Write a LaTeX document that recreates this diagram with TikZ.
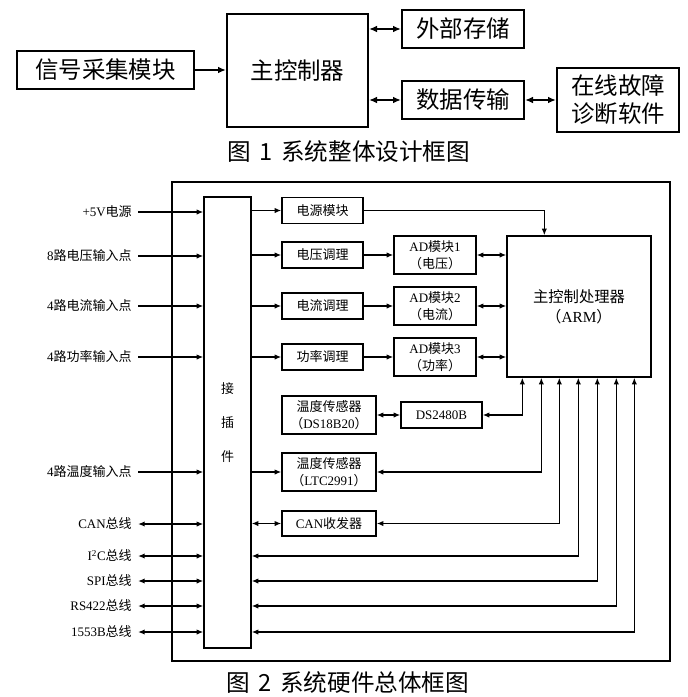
\documentclass[tikz,border=0pt]{standalone}
\usepackage{fontspec}
\setmainfont{Liberation Serif}
\newfontfamily\cj{Noto Sans CJK SC}
\usetikzlibrary{arrows.meta}
\usetikzlibrary{calc}

\begin{document}
\begin{tikzpicture}[x=0.75pt,y=0.75pt,yscale=-1,xscale=1,
  bigbox/.style={draw,line width=1.5pt,inner sep=0pt,align=center,font=\cj\fontsize{17.6}{21}\selectfont},
  smbox/.style={draw,line width=1pt,inner sep=0pt,align=center,font=\fontsize{9.75}{12.75}\selectfont},
  inlbl/.style={anchor=east,inner xsep=4.5pt,inner ysep=0pt,font=\fontsize{9.75}{12.75}\selectfont},
  capt/.style={inner sep=0pt,font=\cj\fontsize{17.7}{21}\selectfont},
  bigarr/.style={line width=1.5pt,-{Latex[length=6pt,width=5pt]}},
  bigdbl/.style={line width=1.5pt,{Latex[length=6pt,width=5pt]}-{Latex[length=6pt,width=5pt]}},
  smarr/.style={line width=1pt,-{Latex[length=5pt,width=4pt]}},
  smdbl/.style={line width=1pt,{Latex[length=5pt,width=4pt]}-{Latex[length=5pt,width=4pt]}}]
%set diagram left start at 0, and has height of 697
\path (0,0) rectangle (688,697);

%Shape: Rectangle (figure 1)
\node [bigbox,minimum width=132.75pt,minimum height=28.5pt] (sig) at (105.5,70) {信号采集模块};
\node [bigbox,minimum width=105.75pt,minimum height=84.75pt] (mcu) at (297.5,70.5) {主控制器};
\node [bigbox,minimum width=91.5pt,minimum height=28.5pt] (ext) at (463,29) {外部存储};
\node [bigbox,minimum width=91.5pt,minimum height=28.5pt] (dat) at (463,100) {数据传输};
\node [bigbox,minimum width=91.5pt,minimum height=48pt] (diag) at (618,100) {在线故障\\诊断软件};
% Text Node
\node [capt] (capa) at (349,152) {图\hspace{0.35em}1\hspace{0.35em}系统整体设计框图};

%Straight Lines (figure 1)
\draw [bigarr] (sig.east) -- (mcu.west |- sig.east);
\draw [bigdbl] (mcu.east |- ext.west) -- (ext.west);
\draw [bigdbl] (mcu.east |- dat.west) -- (dat.west);
\draw [bigdbl] (dat.east) -- (diag.west |- dat.east);

%Shape: Rectangle (figure 2)
\node [draw,line width=1pt,minimum width=373.5pt,minimum height=359.25pt] (frm) at (421,421.5) {};
\node [smbox,minimum width=35.25pt,minimum height=338.25pt,font=\cj\fontsize{9.75}{25.5}\selectfont] (conn) at (227.5,422.5) {接\\插\\件};
\node [smbox,minimum width=60.75pt,minimum height=19.5pt] (pwr) at (322.5,210.5) {\cj 电源模块};
\node [smbox,minimum width=60.75pt,minimum height=19.5pt] (vcond) at (322.5,255) {\cj 电压调理};
\node [smbox,minimum width=60.75pt,minimum height=19.5pt] (icond) at (322.5,306) {\cj 电流调理};
\node [smbox,minimum width=60.75pt,minimum height=19.5pt] (pcond) at (322.5,357) {\cj 功率调理};
\node [smbox,minimum width=61.5pt,minimum height=28.5pt] (ad1) at (435,255) {AD{\cj 模块}1\\{\cj （电压）}};
\node [smbox,minimum width=61.5pt,minimum height=28.5pt] (ad2) at (435,306) {AD{\cj 模块}2\\{\cj （电流）}};
\node [smbox,minimum width=61.5pt,minimum height=28.5pt] (ad3) at (435,357) {AD{\cj 模块}3\\{\cj （功率）}};
\node [smbox,minimum width=108pt,minimum height=105.75pt,font=\fontsize{11.5}{15}\selectfont] (arm) at (579,306.5) {{\cj 主控制处理器}\\{\cj （}ARM{\cj ）}};
\node [smbox,minimum width=70.5pt,minimum height=28.5pt] (ds18) at (329,415) {{\cj 温度传感器}\\{\cj （}DS18B20{\cj ）}};
\node [smbox,minimum width=60.75pt,minimum height=19.5pt] (ds24) at (441.5,415) {DS2480B};
\node [smbox,minimum width=70.5pt,minimum height=28.5pt] (ltc) at (329,472) {{\cj 温度传感器}\\{\cj （}LTC2991{\cj ）}};
\node [smbox,minimum width=70.5pt,minimum height=18.75pt] (can) at (329,523.5) {CAN{\cj 收发器}};

% Text Node
\node [inlbl] (l5v) at (138,212) {+5V{\cj 电源}};
\node [inlbl] (lvol) at (138,256) {8{\cj 路电压输入点}};
\node [inlbl] (lcur) at (138,306) {4{\cj 路电流输入点}};
\node [inlbl] (lpow) at (138,357) {4{\cj 路功率输入点}};
\node [inlbl] (ltmp) at (138,472) {4{\cj 路温度输入点}};
\node [inlbl] (lcan) at (138,524) {CAN{\cj 总线}};
\node [inlbl] (li2c) at (138,556) {I\textsuperscript{2}C{\cj 总线}};
\node [inlbl] (lspi) at (138,581) {SPI{\cj 总线}};
\node [inlbl] (lrs) at (138,606) {RS422{\cj 总线}};
\node [inlbl] (lmil) at (138,632) {1553B{\cj 总线}};
\node [capt] (capb) at (348,682) {图\hspace{0.35em}2\hspace{0.35em}系统硬件总体框图};

%Straight Lines: inputs to connector
\draw [smarr] (l5v.east) -- (l5v -| conn.west);
\draw [smarr] (lvol.east) -- (lvol -| conn.west);
\draw [smarr] (lcur.east) -- (lcur -| conn.west);
\draw [smarr] (lpow.east) -- (lpow -| conn.west);
\draw [smarr] (ltmp.east) -- (ltmp -| conn.west);
\draw [smdbl] (lcan.east) -- (lcan -| conn.west);
\draw [smdbl] (li2c.east) -- (li2c -| conn.west);
\draw [smdbl] (lspi.east) -- (lspi -| conn.west);
\draw [smdbl] (lrs.east) -- (lrs -| conn.west);
\draw [smdbl] (lmil.east) -- (lmil -| conn.west);

%Straight Lines: connector to modules
\draw [smarr] (conn.east |- pwr.west) -- (pwr.west);
\draw [smarr] (conn.east |- vcond.west) -- (vcond.west);
\draw [smarr] (conn.east |- icond.west) -- (icond.west);
\draw [smarr] (conn.east |- pcond.west) -- (pcond.west);
\draw [smarr] (conn.east |- ltc.west) -- (ltc.west);
\draw [smdbl] (conn.east |- can.west) -- (can.west);
\draw [smarr] (vcond.east) -- (ad1.west);
\draw [smarr] (icond.east) -- (ad2.west);
\draw [smarr] (pcond.east) -- (ad3.west);
\draw [smdbl] (ad1.east) -- (ad1.east -| arm.west);
\draw [smdbl] (ad2.east) -- (ad2.east -| arm.west);
\draw [smdbl] (ad3.east) -- (ad3.east -| arm.west);
\draw [smdbl] (ds18.east) -- (ds24.west);

%Polyline: buses to processor
\draw [smarr] (pwr.east) -| ($(arm.north west)+(38,0)$);
\draw [smdbl] (ds24.east) -| ($(arm.south west)+(16,0)$);
\draw [smdbl] (ltc.east) -| ($(arm.south west)+(35,0)$);
\draw [smdbl] (can.east) -| ($(arm.south west)+(53,0)$);
\draw [smdbl] (li2c -| conn.east) -| ($(arm.south west)+(72,0)$);
\draw [smdbl] (lspi -| conn.east) -| ($(arm.south west)+(91,0)$);
\draw [smdbl] (lrs -| conn.east) -| ($(arm.south west)+(110,0)$);
\draw [smdbl] (lmil -| conn.east) -| ($(arm.south west)+(128,0)$);

\end{tikzpicture}
\end{document}
